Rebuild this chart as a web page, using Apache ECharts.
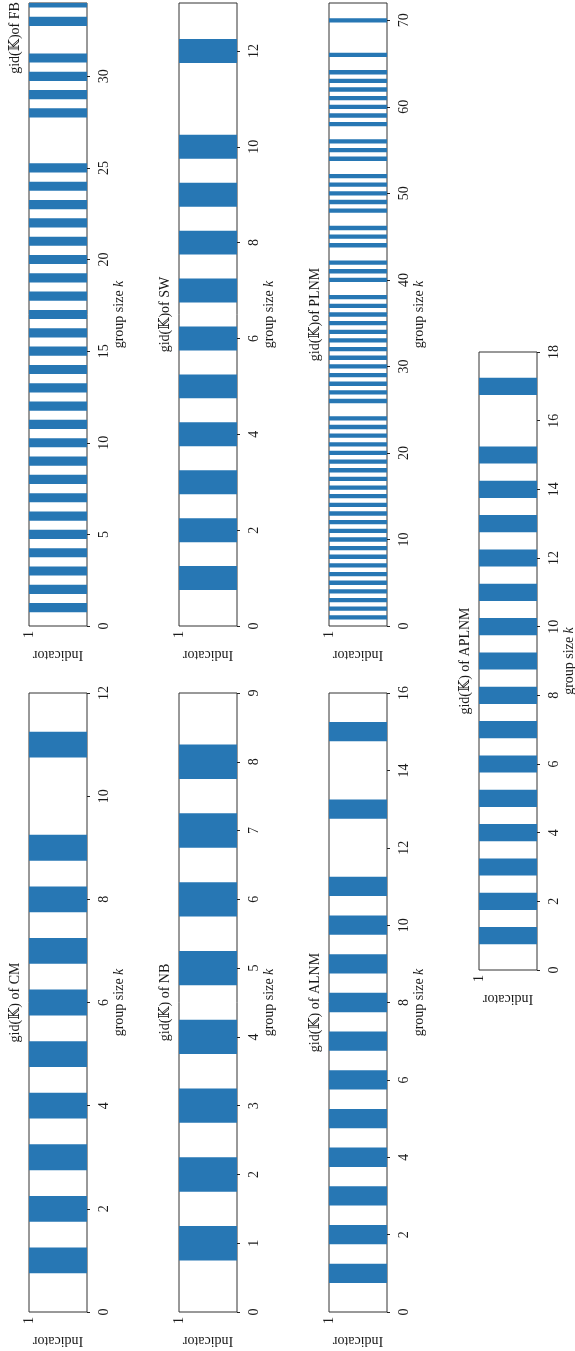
<!DOCTYPE html>
<html>
<head>
<meta charset="utf-8">
<script src="https://cdn.jsdelivr.net/npm/echarts@6/dist/echarts.min.js"></script>
<style>
  html, body { margin: 0; padding: 0; background: #fff; }
  #chart { width: 575px; height: 1351px; }
</style>
</head>
<body>
<div id="chart"></div>
<script>
// Group sizes k whose indicator equals 1, one list per dataset
const cmK = [1, 2, 3, 4, 5, 6, 7, 8, 9, 11];
const nbK = [1, 2, 3, 4, 5, 6, 7, 8];
const alnmK = [1, 2, 3, 4, 5, 6, 7, 8, 9, 10, 11, 13, 15];
const fbK = [1, 2, 3, 4, 5, 6, 7, 8, 9, 10, 11, 12, 13, 14, 15, 16, 17, 18, 19, 20,
  21, 22, 23, 24, 25, 28, 29, 30, 31, 33, 34];
const swK = [1, 2, 3, 4, 5, 6, 7, 8, 9, 10, 12];
const plnmK = [1, 2, 3, 4, 5, 6, 7, 8, 9, 10, 11, 12, 13, 14, 15, 16, 17, 18, 19, 20,
  21, 22, 23, 24, 26, 27, 28, 29, 30, 31, 32, 33, 34, 35, 36, 37, 38, 40, 41, 42,
  44, 45, 46, 48, 49, 50, 51, 52, 54, 55, 56, 58, 59, 60, 61, 62, 63, 64, 66, 70];
const aplnmK = [1, 2, 3, 4, 5, 6, 7, 8, 9, 10, 11, 12, 13, 14, 15, 17];

// Indicator value carried by every listed group size
const indicatorValue = 1;

// Axis ranges and tick labels of the group-size axes
const cmMax = 12, nbMax = 9, alnmMax = 16, fbMax = 34, swMax = 13, plnmMax = 72, aplnmMax = 18;
const cmTicks = [0, 2, 4, 6, 8, 10, 12];
const nbTicks = [0, 1, 2, 3, 4, 5, 6, 7, 8, 9];
const alnmTicks = [0, 2, 4, 6, 8, 10, 12, 14, 16];
const fbTicks = [0, 5, 10, 15, 20, 25, 30];
const swTicks = [0, 2, 4, 6, 8, 10, 12];
const plnmTicks = [0, 10, 20, 30, 40, 50, 60, 70];
const aplnmTicks = [0, 2, 4, 6, 8, 10, 12, 14, 16, 18];
const indicatorTicks = [1];

const titles = ['gid(𝕂) of CM', 'gid(𝕂) of NB', 'gid(𝕂) of ALNM',
  'gid(𝕂)of FB', 'gid(𝕂)of SW', 'gid(𝕂)of PLNM', 'gid(𝕂) of APLNM'];

// Panel layout (the figure is laid out sideways)
const PANEL_W = 58;
const layout = [
  { ks: cmK, max: cmMax, ticks: cmTicks, left: 29, top: 693, height: 619 },
  { ks: nbK, max: nbMax, ticks: nbTicks, left: 179, top: 693, height: 619 },
  { ks: alnmK, max: alnmMax, ticks: alnmTicks, left: 329, top: 693, height: 619 },
  { ks: fbK, max: fbMax, ticks: fbTicks, left: 29, top: 3, height: 623, titleY: 38 },
  { ks: swK, max: swMax, ticks: swTicks, left: 179, top: 3, height: 623 },
  { ks: plnmK, max: plnmMax, ticks: plnmTicks, left: 329, top: 3, height: 623 },
  { ks: aplnmK, max: aplnmMax, ticks: aplnmTicks, left: 479, top: 352, height: 618 }
];

const FONT = "'Liberation Serif', 'DejaVu Serif', serif";
const TEXT_COLOR = '#1a1a1a';
const BAR_COLOR = '#2777b4';
const HALF_WIDTH = 0.25;

const grid = [], xAxis = [], yAxis = [], series = [], graphic = [];

layout.forEach((p, i) => {
  grid.push({
    left: p.left, top: p.top, width: PANEL_W, height: p.height,
    show: true, borderColor: '#333', borderWidth: 1,
    containLabel: false, outerBoundsMode: 'none'
  });

  // Indicator axis (0 on the right, 1 on the left)
  xAxis.push({
    gridIndex: i, type: 'value', min: 0, max: 1, inverse: true, position: 'bottom',
    axisLine: { show: false },
    axisTick: { show: false },
    splitLine: { show: false },
    axisLabel: {
      customValues: indicatorTicks, rotate: 90, margin: 5,
      fontFamily: FONT, fontSize: 14, color: TEXT_COLOR
    },
    name: 'Indicator', nameLocation: 'middle', nameGap: 22, nameRotate: 180,
    nameTextStyle: { fontFamily: FONT, fontSize: 14, color: TEXT_COLOR }
  });

  // Group size axis, running upwards
  yAxis.push({
    gridIndex: i, type: 'value', min: 0, max: p.max, position: 'right',
    axisLine: { show: false },
    axisTick: { show: true, inside: false, length: 3, customValues: p.ticks,
      lineStyle: { color: '#222', width: 1 } },
    splitLine: { show: false },
    axisLabel: {
      customValues: p.ticks, rotate: 90, margin: 10,
      fontFamily: FONT, fontSize: 14, color: TEXT_COLOR
    },
    name: 'group size {k|k}', nameLocation: 'middle', nameGap: 25, nameRotate: 90,
    nameTextStyle: {
      fontFamily: FONT, fontSize: 14, color: TEXT_COLOR,
      rich: { k: { fontFamily: FONT, fontSize: 14, fontStyle: 'italic', color: TEXT_COLOR } }
    }
  });

  series.push({
    type: 'custom', xAxisIndex: i, yAxisIndex: i,
    data: p.ks.map(k => [indicatorValue, k]),
    renderItem: (params, api) => {
      const v = api.value(0);
      const k = api.value(1);
      const a = api.coord([0, k - HALF_WIDTH]);
      const b = api.coord([v, k + HALF_WIDTH]);
      const cs = params.coordSys;
      const shape = echarts.graphic.clipRectByRect(
        { x: Math.min(a[0], b[0]), y: Math.min(a[1], b[1]),
          width: Math.abs(b[0] - a[0]), height: Math.abs(b[1] - a[1]) },
        { x: cs.x, y: cs.y, width: cs.width, height: cs.height }
      );
      return shape && { type: 'rect', shape: shape, style: { fill: BAR_COLOR } };
    }
  });

  graphic.push({
    type: 'text',
    x: p.left - 14,
    y: p.titleY !== undefined ? p.titleY : p.top + p.height / 2,
    rotation: Math.PI / 2,
    style: {
      text: titles[i], fontFamily: FONT, fontSize: 14, fill: TEXT_COLOR,
      align: 'center', verticalAlign: 'middle'
    }
  });
});

const chart = echarts.init(document.getElementById('chart'), null, { renderer: 'canvas' });
chart.setOption({
  animation: false,
  backgroundColor: '#fff',
  grid, xAxis, yAxis, series, graphic
});
</script>
</body>
</html>
